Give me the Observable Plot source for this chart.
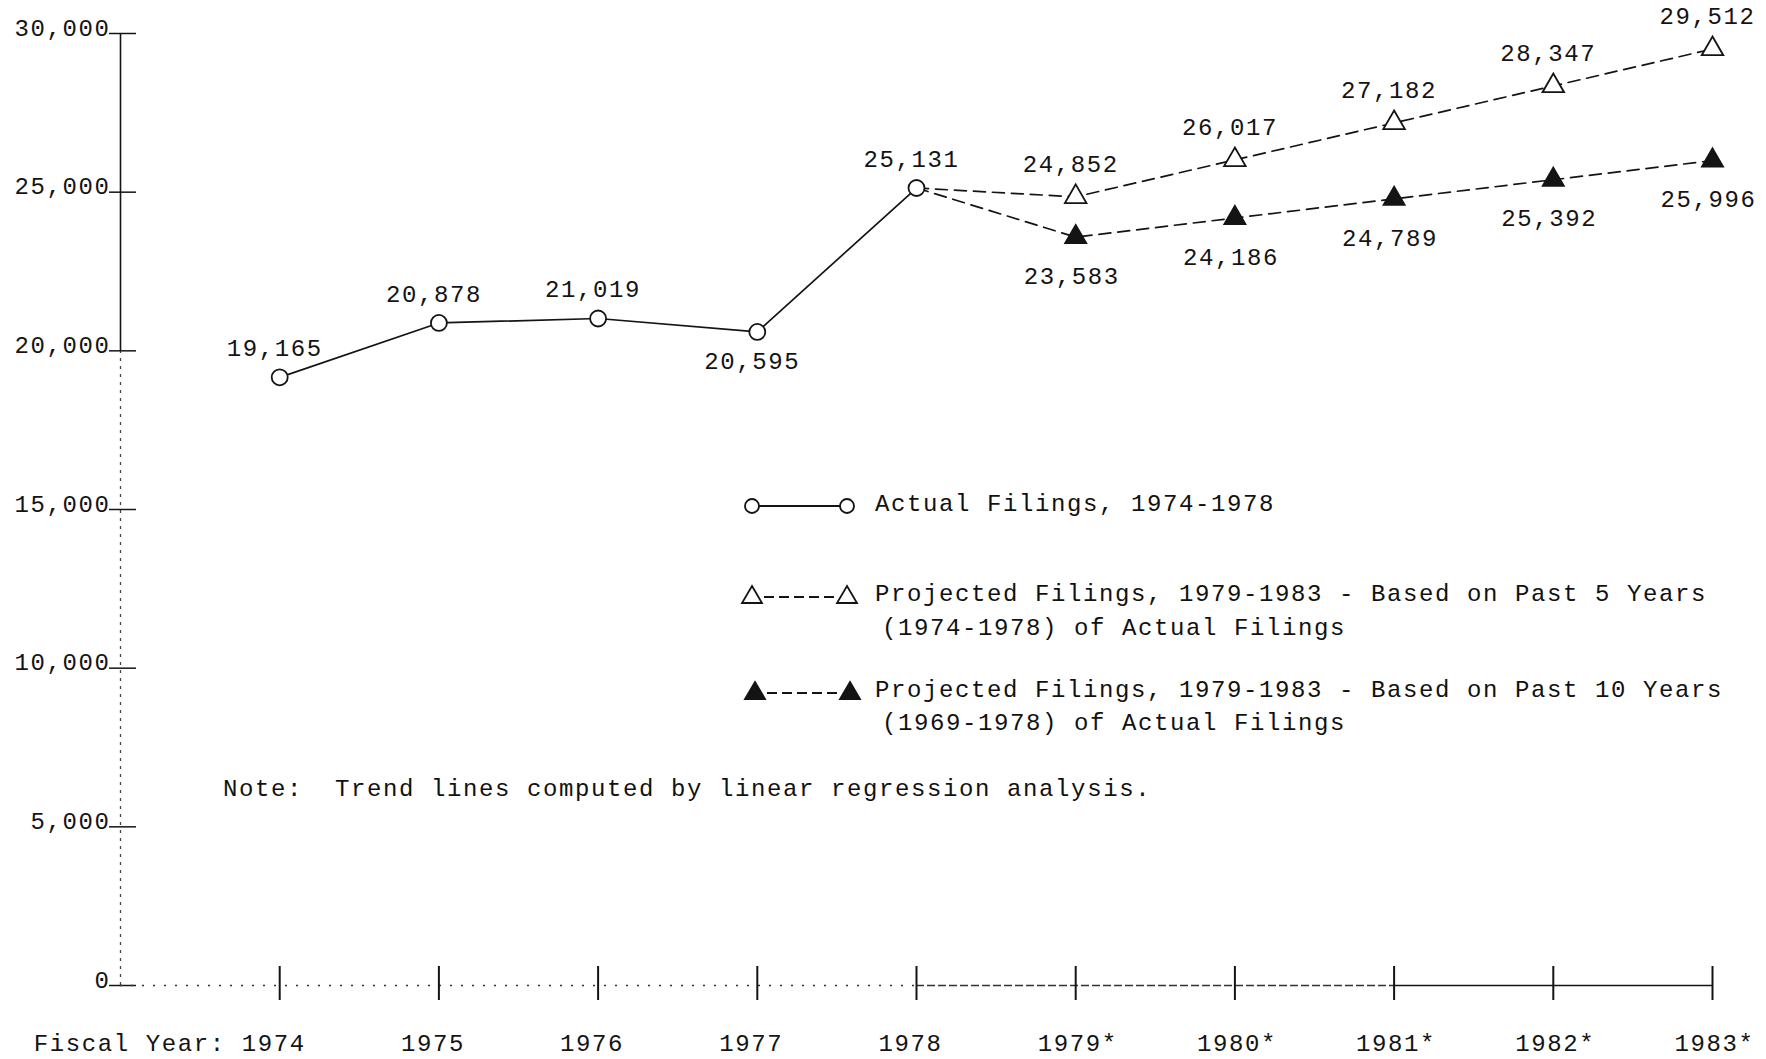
<!DOCTYPE html>
<html>
<head>
<meta charset="utf-8">
<script src="https://cdn.jsdelivr.net/npm/d3@7"></script>
<script src="https://cdn.jsdelivr.net/npm/@observablehq/plot@0.6"></script>
<style>
  html, body { margin: 0; padding: 0; background: #fff; }
  #wrap { position: relative; width: 1766px; height: 1059px; overflow: hidden; background: #fff; }
  #wrap svg text { letter-spacing: 1.6px; }
  .t { position: absolute; font-family: "Liberation Mono", "DejaVu Sans Mono", monospace; font-size: 24px;
       letter-spacing: 1.6px; color: #111; white-space: pre; line-height: 24px; }
  .sym { position: absolute; overflow: visible; }
</style>
</head>
<body>
<div id="wrap"></div>
<script>
// ---- data ----
const years = [1974, 1975, 1976, 1977, 1978, 1979, 1980, 1981, 1982, 1983];
const xTickLabels = ["1974", "1975", "1976", "1977", "1978", "1979*", "1980*", "1981*", "1982*", "1983*"];
const xAxisTitle = "Fiscal Year:";

const actualYears = [1974, 1975, 1976, 1977, 1978];
const actualFilings = [19165, 20878, 21019, 20595, 25131];

const projectedYears = [1979, 1980, 1981, 1982, 1983];
const projected5Filings = [24852, 26017, 27182, 28347, 29512];
const projected10Filings = [23583, 24186, 24789, 25392, 25996];

const yTicks = [0, 5000, 10000, 15000, 20000, 25000, 30000];
const yTickLabels = ["0", "5,000", "10,000", "15,000", "20,000", "25,000", "30,000"];

const legendActual = "Actual Filings, 1974-1978";
const legend5 = ["Projected Filings, 1979-1983 - Based on Past 5 Years", "(1974-1978) of Actual Filings"];
const legend10 = ["Projected Filings, 1979-1983 - Based on Past 10 Years", "(1969-1978) of Actual Filings"];
const noteText = "Note:  Trend lines computed by linear regression analysis.";

// ---- build tables ----
const actual = actualYears.map((year, i) => ({year, value: actualFilings[i]}));
const anchor = actual[actual.length - 1];
const proj5 = [anchor, ...projectedYears.map((year, i) => ({year, value: projected5Filings[i]}))];
const proj10 = [anchor, ...projectedYears.map((year, i) => ({year, value: projected10Filings[i]}))];
const fmt = d3.format(",");
const isDip = (arr, i) => i > 0 && i < arr.length - 1 && arr[i].value < arr[i - 1].value && arr[i].value < arr[i + 1].value;

const xDomain = [years[0] - 1, years[years.length - 1]];
const yDomain = [yTicks[0], yTicks[yTicks.length - 1]];
const ink = "#141414";
const FONT = '"Liberation Mono", "DejaVu Sans Mono", monospace';

const chart = Plot.plot({
  width: 1766,
  height: 1059,
  marginLeft: 120,
  marginRight: 54,
  marginTop: 33,
  marginBottom: 74,
  x: {type: "linear", domain: xDomain, axis: null},
  y: {type: "linear", domain: yDomain, axis: null},
  style: {background: "#fff", color: ink, fontFamily: FONT, fontSize: "24px"},
  marks: [
    // vertical axis
    Plot.ruleX([xDomain[0]], {y1: yTicks[4], y2: yDomain[1], stroke: ink, strokeWidth: 1.6}),
    Plot.ruleX([xDomain[0]], {y1: yDomain[0], y2: yTicks[4], stroke: "#444", strokeWidth: 1.3, strokeDasharray: "3,5"}),
    Plot.ruleY(yTicks, {x1: xDomain[0], x2: xDomain[0], y: d => d, insetLeft: -11, insetRight: -16, stroke: ink, strokeWidth: 1.5}),
    Plot.text(yTicks, {x: xDomain[0], y: d => d, text: (d, i) => yTickLabels[i], textAnchor: "end", lineAnchor: "bottom", dx: -10, dy: 2, fill: ink, fontSize: 24, fontFamily: FONT}),

    // baseline
    Plot.ruleY([0], {x1: xDomain[0], x2: years[4], stroke: "#333", strokeWidth: 1.4, strokeDasharray: "2,9"}),
    Plot.ruleY([0], {x1: years[4], x2: years[7], stroke: "#333", strokeWidth: 1.4, strokeDasharray: "8,3"}),
    Plot.ruleY([0], {x1: years[7], x2: years[9], stroke: ink, strokeWidth: 1.6}),
    Plot.ruleX(years, {x: d => d, y1: 0, y2: 0, insetTop: -19, insetBottom: -15, stroke: ink, strokeWidth: 2}),
    Plot.text(years, {x: d => d, y: yDomain[0], text: (d, i) => xTickLabels[i], textAnchor: "start", dx: -38, dy: 58, fill: ink, fontSize: 24, fontFamily: FONT}),
    Plot.text([xAxisTitle], {x: years[0], y: yDomain[0], text: d => d, textAnchor: "end", dx: -54, dy: 58, fill: ink, fontSize: 24, fontFamily: FONT}),

    // series lines
    Plot.line(actual, {x: "year", y: "value", stroke: ink, strokeWidth: 1.7}),
    Plot.line(proj5, {x: "year", y: "value", stroke: ink, strokeWidth: 1.7, strokeDasharray: "12,7"}),
    Plot.line(proj10, {x: "year", y: "value", stroke: ink, strokeWidth: 1.7, strokeDasharray: "12,7"}),

    // markers
    Plot.dot(actual, {x: "year", y: "value", r: 8, fill: "#fff", stroke: ink, strokeWidth: 1.8}),
    Plot.dot(proj5.slice(1), {x: "year", y: "value", symbol: "triangle", r: 8, fill: "#fff", stroke: ink, strokeWidth: 1.8}),
    Plot.dot(proj10.slice(1), {x: "year", y: "value", symbol: "triangle", r: 8, fill: ink, stroke: ink, strokeWidth: 1.5}),

    // value labels
    Plot.text(actual, {filter: (d, i) => !isDip(actual, i), x: "year", y: "value", text: d => fmt(d.value), dx: -5, dy: -29, fill: ink, fontSize: 24, fontFamily: FONT}),
    Plot.text(actual, {filter: (d, i) => isDip(actual, i), x: "year", y: "value", text: d => fmt(d.value), dx: -5, dy: 29, fill: ink, fontSize: 24, fontFamily: FONT}),
    Plot.text(proj5.slice(1), {x: "year", y: "value", text: d => fmt(d.value), dx: -5, dy: -33, fill: ink, fontSize: 24, fontFamily: FONT}),
    Plot.text(proj10.slice(1), {x: "year", y: "value", text: d => fmt(d.value), dx: -4, dy: 39, fill: ink, fontSize: 24, fontFamily: FONT})
  ]
});

const wrap = document.getElementById("wrap");
wrap.appendChild(chart);

// ---- legend & note (overlaid annotation) ----
function addText(str, left, top) {
  const d = document.createElement("div");
  d.className = "t";
  d.style.left = left + "px";
  d.style.top = top + "px";
  d.textContent = str;
  wrap.appendChild(d);
}
function addSymbol(kind, left, top) {
  const ns = "http://www.w3.org/2000/svg";
  const s = document.createElementNS(ns, "svg");
  s.setAttribute("class", "sym");
  s.setAttribute("width", "120");
  s.setAttribute("height", "24");
  s.style.left = left + "px";
  s.style.top = top + "px";
  let inner = "";
  const tri = (cx, fill) => `<path d="M${cx},3 L${cx + 10},20 L${cx - 10},20 Z" fill="${fill}" stroke="${ink}" stroke-width="1.8" stroke-linejoin="miter"/>`;
  if (kind === "circle") {
    inner = `<line x1="19" y1="12" x2="100" y2="12" stroke="${ink}" stroke-width="1.8"/>` +
            `<circle cx="12" cy="12" r="7" fill="#fff" stroke="${ink}" stroke-width="1.8"/>` +
            `<circle cx="107" cy="12" r="7" fill="#fff" stroke="${ink}" stroke-width="1.8"/>`;
  } else {
    const fill = kind === "open" ? "#fff" : ink;
    inner = `<line x1="24" y1="14" x2="96" y2="14" stroke="${ink}" stroke-width="1.8" stroke-dasharray="10,5"/>` +
            tri(12, fill) + tri(107, fill);
  }
  s.innerHTML = inner;
  wrap.appendChild(s);
}

addSymbol("circle", 740, 494);
addText(legendActual, 875, 493);

addSymbol("open", 740, 583);
addText(legend5[0], 875, 583);
addText(legend5[1], 882, 617);

addSymbol("filled", 743, 679);
addText(legend10[0], 875, 679);
addText(legend10[1], 882, 712);

addText(noteText, 223, 778);
</script>
</body>
</html>
